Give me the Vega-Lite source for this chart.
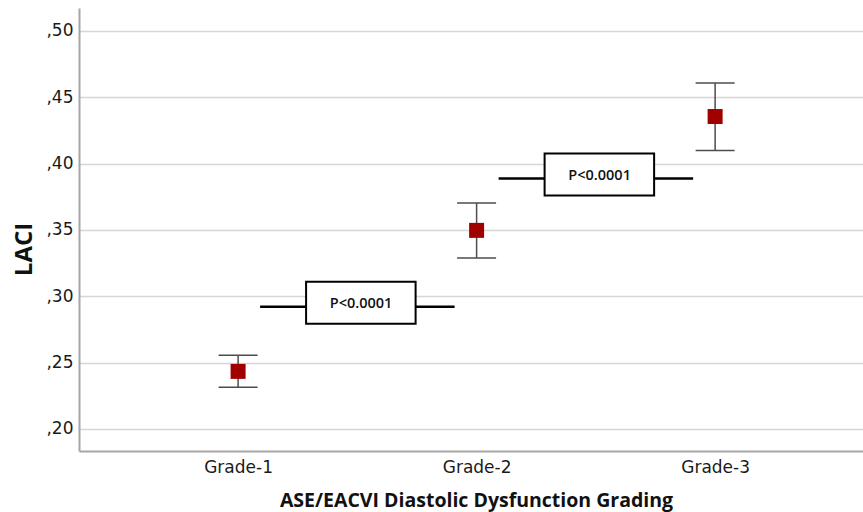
{
  "$schema": "https://vega.github.io/schema/vega-lite/v6.json",
  "width": 784,
  "height": 443,
  "autosize": {"type": "none"},
  "padding": {"left": 79, "top": 8, "right": 0, "bottom": 61},
  "background": "white",
  "config": {
    "view": {"stroke": null},
    "axis": {
      "domainColor": "#a6a6a6",
      "domainWidth": 2,
      "gridColor": "#d6d6d6",
      "gridWidth": 1.5,
      "ticks": false,
      "labelFont": "DejaVu Sans",
      "labelFontSize": 17,
      "labelColor": "#1a1a1a",
      "titleFont": "Open Sans",
      "titleFontWeight": "bold",
      "titleColor": "#111111"
    }
  },
  "datasets": {
    "grades": [
      {"grade": 1, "mean": 0.2434, "lo": 0.2314, "hi": 0.2555},
      {"grade": 2, "mean": 0.3497, "lo": 0.3289, "hi": 0.3704},
      {"grade": 3, "mean": 0.4355, "lo": 0.4099, "hi": 0.4607}
    ],
    "tests": [
      {"from": 1, "to": 2, "y": 0.2922, "label": "P<0.0001"},
      {"from": 2, "to": 3, "y": 0.3887, "label": "P<0.0001"}
    ]
  },
  "layer": [
    {
      "data": {"name": "grades"},
      "mark": {"type": "rule", "color": "#4d4d4d", "strokeWidth": 1.5},
      "encoding": {
        "x": {
          "field": "grade",
          "type": "quantitative",
          "scale": {"domain": [0.333, 3.62], "nice": false, "zero": false},
          "axis": {
            "values": [1, 2, 3],
            "labelExpr": "'Grade-' + datum.value",
            "grid": false,
            "labelPadding": 8,
            "title": "ASE/EACVI Diastolic Dysfunction Grading",
            "titleFontSize": 19.5,
            "titleX": 397,
            "titleY": 55,
            "titleAlign": "center",
            "titleBaseline": "alphabetic"
          }
        },
        "y": {
          "field": "lo",
          "type": "quantitative",
          "scale": {"domain": [0.1834, 0.5173], "nice": false, "zero": false},
          "axis": {
            "values": [0.2, 0.25, 0.3, 0.35, 0.4, 0.45, 0.5],
            "labelExpr": "replace(format(datum.value, '.2f'), '0.', ',')",
            "labelPadding": 6,
            "title": "LACI",
            "titleFontSize": 24,
            "titleAngle": -90,
            "titleX": -55,
            "titleY": 241,
            "titleAlign": "center",
            "titleBaseline": "middle"
          }
        },
        "y2": {"field": "hi"}
      }
    },
    {
      "data": {"name": "grades"},
      "mark": {"type": "tick", "orient": "horizontal", "size": 39, "thickness": 1.5, "color": "#4d4d4d", "opacity": 1},
      "encoding": {
        "x": {"field": "grade", "type": "quantitative"},
        "y": {"field": "hi", "type": "quantitative"}
      }
    },
    {
      "data": {"name": "grades"},
      "mark": {"type": "tick", "orient": "horizontal", "size": 39, "thickness": 1.5, "color": "#4d4d4d", "opacity": 1},
      "encoding": {
        "x": {"field": "grade", "type": "quantitative"},
        "y": {"field": "lo", "type": "quantitative"}
      }
    },
    {
      "data": {"name": "grades"},
      "mark": {"type": "square", "size": 225, "color": "#a00000", "filled": true, "opacity": 1},
      "encoding": {
        "x": {"field": "grade", "type": "quantitative"},
        "y": {"field": "mean", "type": "quantitative"}
      }
    },
    {
      "data": {"name": "tests"},
      "mark": {"type": "rule", "color": "#000000", "strokeWidth": 2.5, "xOffset": 22, "x2Offset": -22},
      "encoding": {
        "x": {"field": "from", "type": "quantitative"},
        "x2": {"field": "to"},
        "y": {"field": "y", "type": "quantitative"}
      }
    },
    {
      "data": {"name": "tests"},
      "mark": {"type": "rect", "fill": "white", "stroke": "#000000", "strokeWidth": 2, "xOffset": 68, "x2Offset": -61, "yOffset": -25, "y2Offset": 17},
      "encoding": {
        "x": {"field": "from", "type": "quantitative"},
        "x2": {"field": "to"},
        "y": {"field": "y", "type": "quantitative"},
        "y2": {"field": "y"}
      }
    },
    {
      "data": {"name": "tests"},
      "mark": {"type": "text", "dx": 123, "dy": -3, "font": "Open Sans", "fontWeight": 600, "fontSize": 14.5, "color": "#111111", "align": "center", "baseline": "middle"},
      "encoding": {
        "x": {"field": "from", "type": "quantitative"},
        "y": {"field": "y", "type": "quantitative"},
        "text": {"field": "label"}
      }
    }
  ]
}
